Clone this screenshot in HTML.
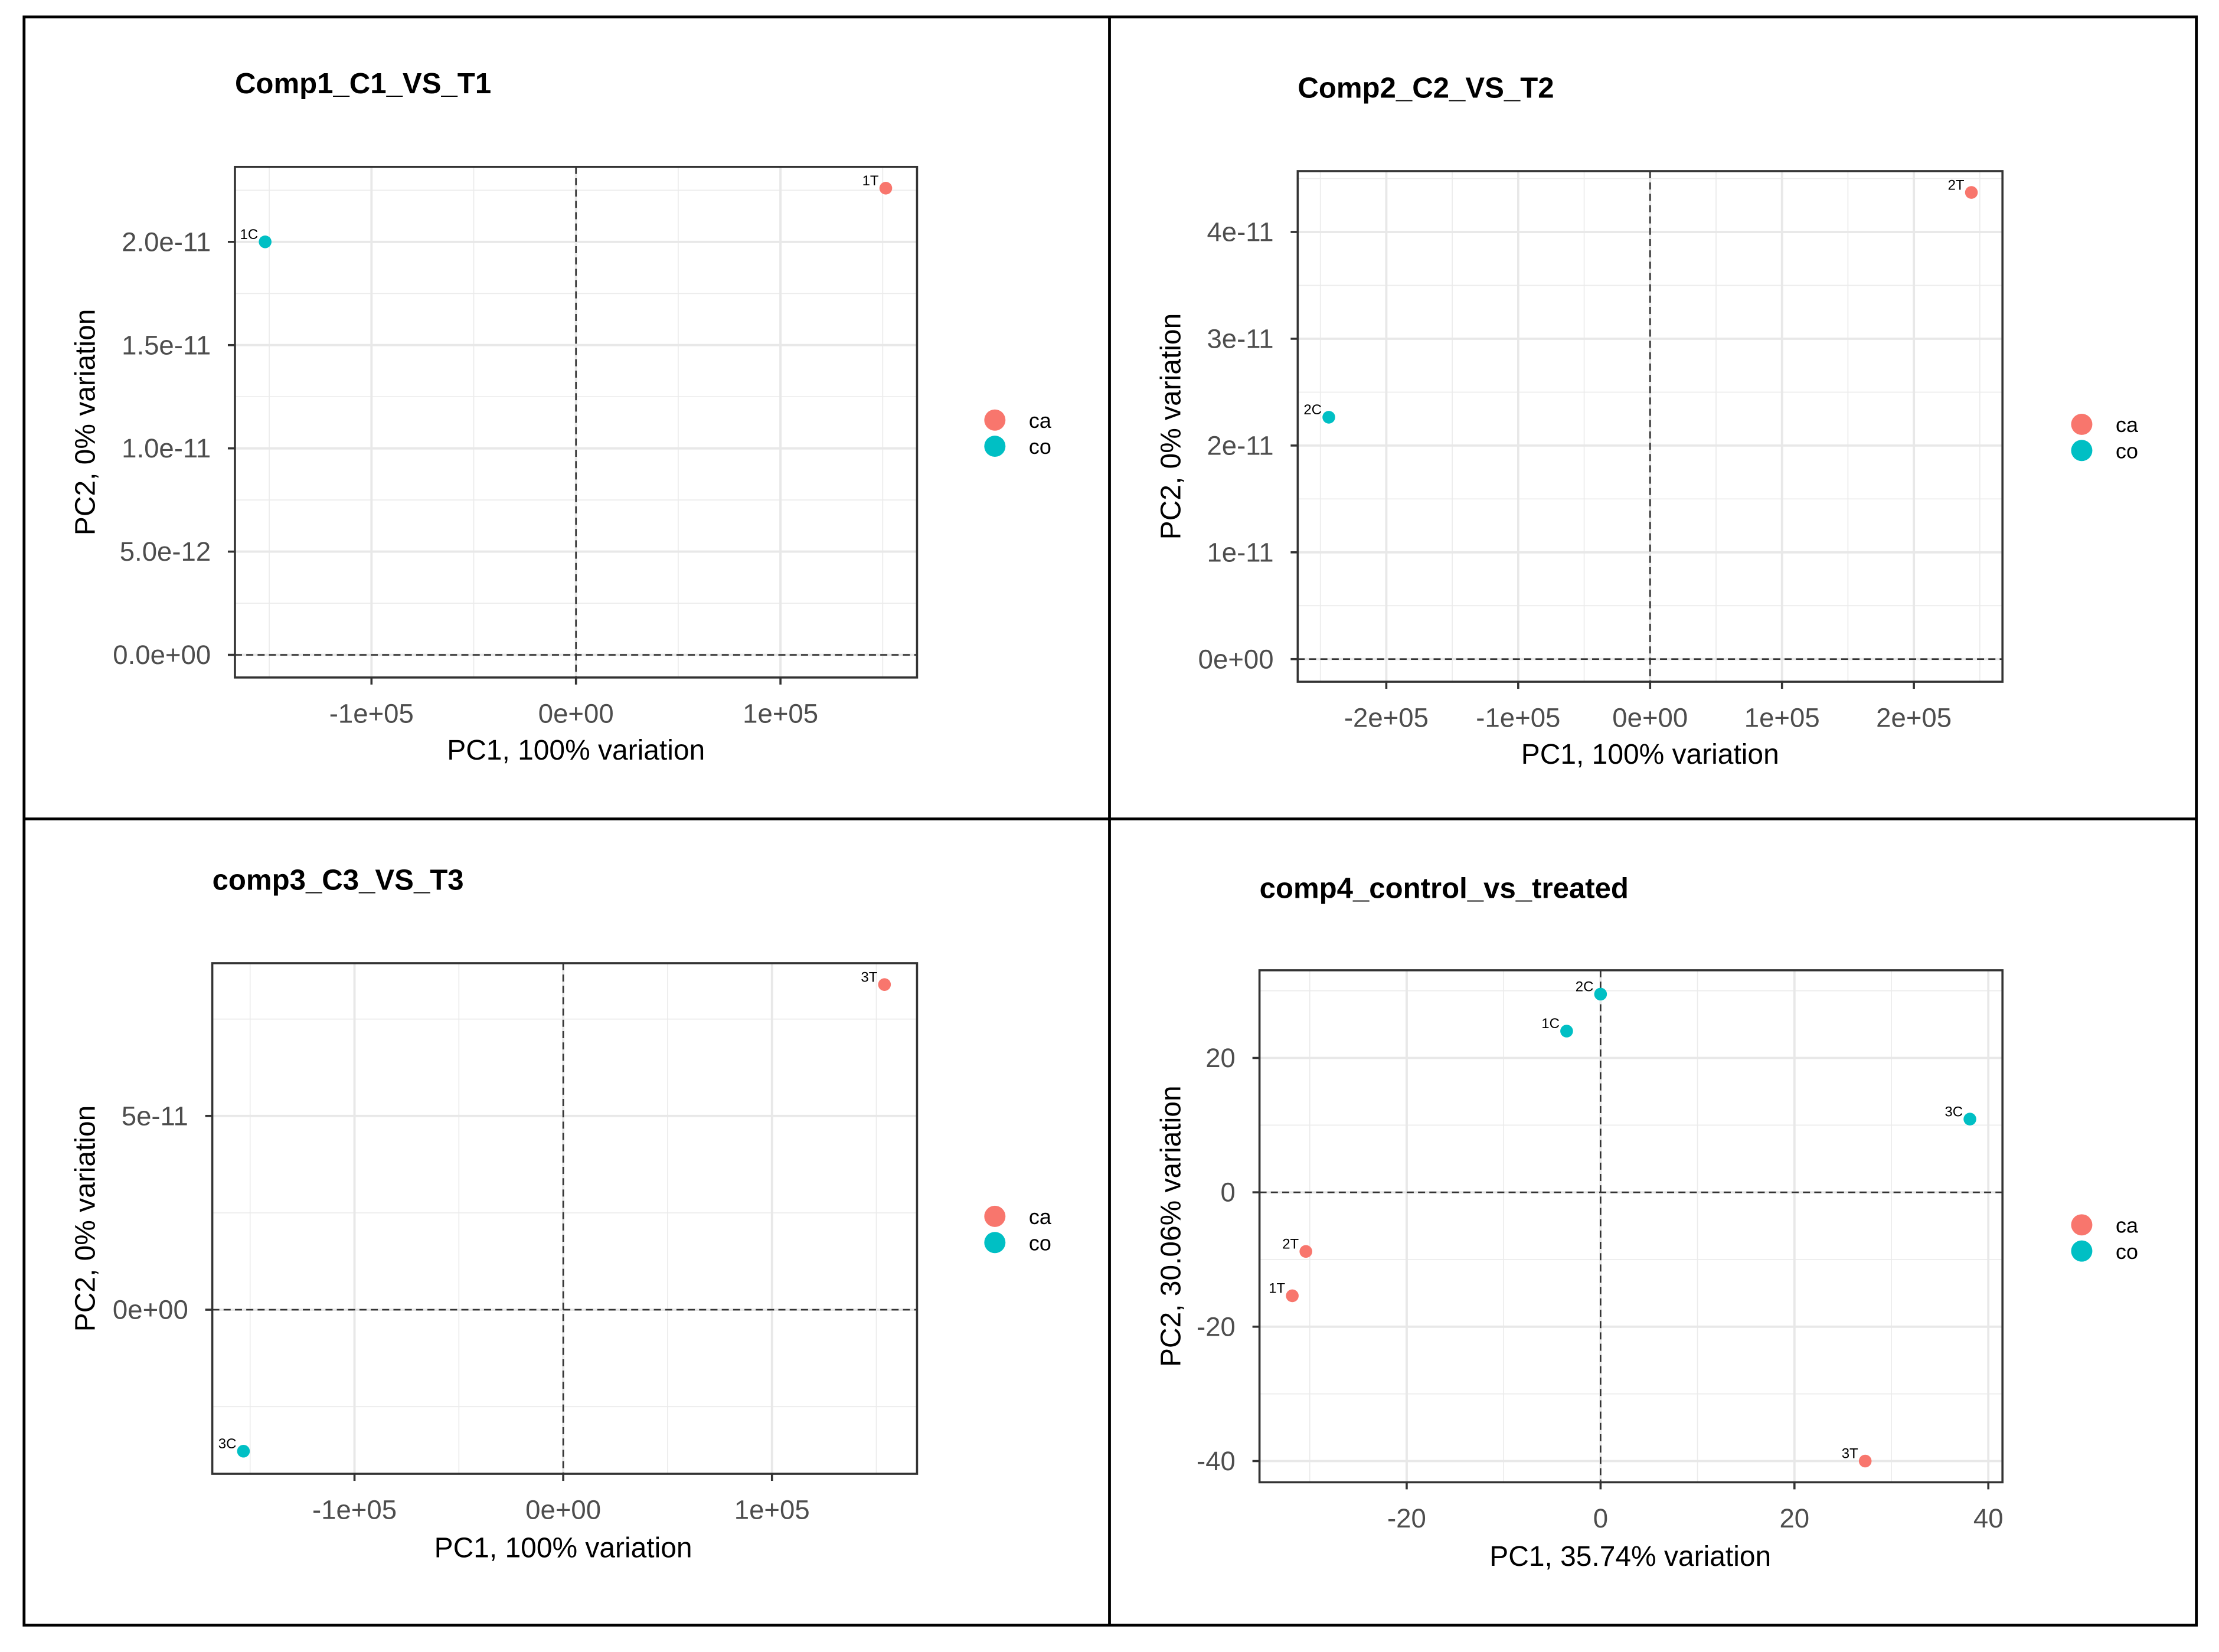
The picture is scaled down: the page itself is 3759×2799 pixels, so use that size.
<!DOCTYPE html>
<html><head><meta charset="utf-8">
<style>
html,body{margin:0;padding:0;background:#fff;}
svg{display:block;font-family:"Liberation Sans",sans-serif;}
</style></head>
<body>
<svg id="fig" width="3759" height="2799" viewBox="0 0 1568 1168" preserveAspectRatio="none" xmlns="http://www.w3.org/2000/svg">
<rect x="0" y="0" width="1568" height="1168" fill="#fff"/>
<g stroke="#000" stroke-width="2" fill="none">
<rect x="17" y="12" width="1535" height="1137"/>
<line x1="784" y1="12" x2="784" y2="1149"/>
<line x1="17" y1="579" x2="1552" y2="579"/>
</g>
</svg>
<script>
// Panel 1 data
const p1Labels = ["1C","1T"];
const p1Groups = ["co","ca"];
const p1PC1 = [-152000, 151500];
const p1PC2 = [2.0e-11, 2.26e-11];
const p1XTicks = [-100000, 0, 100000];
const p1XTickLabels = ["-1e+05","0e+00","1e+05"];
const p1YTicks = [0, 5e-12, 1e-11, 1.5e-11, 2e-11];
const p1YTickLabels = ["0.0e+00","5.0e-12","1.0e-11","1.5e-11","2.0e-11"];
// Panel 2 data
const p2Labels = ["2C","2T"];
const p2Groups = ["co","ca"];
const p2PC1 = [-243600, 243600];
const p2PC2 = [2.265e-11, 4.37e-11];
const p2XTicks = [-200000, -100000, 0, 100000, 200000];
const p2XTickLabels = ["-2e+05","-1e+05","0e+00","1e+05","2e+05"];
const p2YTicks = [0, 1e-11, 2e-11, 3e-11, 4e-11];
const p2YTickLabels = ["0e+00","1e-11","2e-11","3e-11","4e-11"];
// Panel 3 data
const p3Labels = ["3C","3T"];
const p3Groups = ["co","ca"];
const p3PC1 = [-153200, 153900];
const p3PC2 = [-3.65e-11, 8.39e-11];
const p3XTicks = [-100000, 0, 100000];
const p3XTickLabels = ["-1e+05","0e+00","1e+05"];
const p3YTicks = [0, 5e-11];
const p3YTickLabels = ["0e+00","5e-11"];
// Panel 4 data
const p4Labels = ["2C","1C","3C","2T","1T","3T"];
const p4Groups = ["co","co","co","ca","ca","ca"];
const p4PC1 = [0, -3.5, 38.1, -30.4, -31.8, 27.3];
const p4PC2 = [29.5, 24, 10.9, -8.8, -15.4, -40];
const p4XTicks = [-20, 0, 20, 40];
const p4XTickLabels = ["-20","0","20","40"];
const p4YTicks = [-40, -20, 0, 20];
const p4YTickLabels = ["-40","-20","0","20"];

const COLORS = {ca:"#F8766D", co:"#00BFC4"};
const NS = "http://www.w3.org/2000/svg";
const svg = document.getElementById("fig");
function mk(tag, attrs, parent){
  const e = document.createElementNS(NS, tag);
  for (const k in attrs) e.setAttribute(k, attrs[k]);
  parent.appendChild(e);
  return e;
}
function panel(cfg){
  const g = mk("g", {}, svg);
  
  
  const L=cfg.box[0], T=cfg.box[1], R=cfg.box[2], B=cfg.box[3];
  const xs = v => cfg.xpx[0] + (v - cfg.xref[0])*(cfg.xpx[1]-cfg.xpx[0])/(cfg.xref[1]-cfg.xref[0]);
  const ys = v => cfg.ypx[0] + (v - cfg.yref[0])*(cfg.ypx[1]-cfg.ypx[0])/(cfg.yref[1]-cfg.yref[0]);
  const title = mk("text", {x:L, y:cfg.titleY, "font-size":20.5, "font-weight":"bold", fill:"#000"}, g);
  title.textContent = cfg.title;
  
  
  const grid = mk("g", {}, g);
  
  
  const xt = cfg.xticks, yt = cfg.yticks;
  const xstep = xt.length>1 ? xt[1]-xt[0] : 1, ystep = yt.length>1 ? yt[1]-yt[0] : 1;
  for (let v = xt[0]-xstep*4.5; v <= xt[xt.length-1]+xstep*4.5; v += xstep){
    const p = xs(v); if (p>L && p<R) mk("line",{x1:p,x2:p,y1:T,y2:B,stroke:"#ebebeb","stroke-width":0.7},grid);
  }
  for (let v = yt[0]-ystep*4.5; v <= yt[yt.length-1]+ystep*4.5; v += ystep){
    const p = ys(v); if (p>T && p<B) mk("line",{y1:p,y2:p,x1:L,x2:R,stroke:"#ebebeb","stroke-width":0.7},grid);
  }
  xt.forEach(v=>{const p=xs(v); mk("line",{x1:p,x2:p,y1:T,y2:B,stroke:"#e8e8e8","stroke-width":1.6},grid);});
  yt.forEach(v=>{const p=ys(v); mk("line",{y1:p,y2:p,x1:L,x2:R,stroke:"#e8e8e8","stroke-width":1.6},grid);});
  const zx = mk("line",{x1:xs(0),x2:xs(0),y1:T,y2:B,stroke:"#333","stroke-width":1.1,"stroke-dasharray":"5,3"},g);
  
  
  const zy = mk("line",{y1:ys(0),y2:ys(0),x1:L,x2:R,stroke:"#333","stroke-width":1.1,"stroke-dasharray":"5,3"},g);
  
  
  cfg.pc1.forEach((v,i)=>{
    const cx = xs(v), cy = ys(cfg.pc2[i]);
    const c = mk("circle",{cx:cx, cy:cy, r:4.5, fill:COLORS[cfg.groups[i]]}, g);
    
    
    const t = mk("text",{x:cx-5, y:cy-2, "font-size":10, "text-anchor":"end", fill:"#000"}, g);
    t.textContent = cfg.labels[i];
    
    
  });
  const bd = mk("rect",{x:L,y:T,width:R-L,height:B-T,fill:"none",stroke:"#333","stroke-width":1.5},g);
  
  
  xt.forEach((v,i)=>{
    const p = xs(v);
    mk("line",{x1:p,x2:p,y1:B,y2:B+5,stroke:"#333","stroke-width":1.5},g);
    const t = mk("text",{x:p, y:B+32, "font-size":19, "text-anchor":"middle", fill:"#4d4d4d"},g);
    t.textContent = cfg.xlabels[i];
    
    
  });
  yt.forEach((v,i)=>{
    const p = ys(v);
    mk("line",{x1:L-5,x2:L,y1:p,y2:p,stroke:"#333","stroke-width":1.5},g);
    const t = mk("text",{x:L-17, y:p+6.5, "font-size":19, "text-anchor":"end", fill:"#4d4d4d"},g);
    t.textContent = cfg.ylabels[i];
    
    
  });
  const xtl = mk("text",{x:cfg.xTitleX, y:cfg.xTitleY, "font-size":20, "text-anchor":"middle", fill:"#000"},g);
  xtl.textContent = cfg.xTitle;
  
  
  const ytl = mk("text",{x:0, y:0, "font-size":20, "text-anchor":"middle", fill:"#000", transform:"translate("+cfg.yTitleX+","+((T+B)/2)+") rotate(-90)"},g);
  ytl.textContent = cfg.yTitle;
  
  
  const lg = mk("g",{},g);
  
  
  ["ca","co"].forEach((k,i)=>{
    const cy = cfg.legY + i*18.5;
    const c = mk("circle",{cx:cfg.legX, cy:cy, r:7.5, fill:COLORS[k]},lg);
    
    
    const t = mk("text",{x:cfg.legX+24, y:cy+5.5, "font-size":15, fill:"#000"},lg);
    t.textContent = k;
    
    
  });
}
panel({name:"panel-comp1", title:"Comp1_C1_VS_T1", titleY:66, box:[166,118,648,479],
  xref:[0,100000], xpx:[407,551.5], yref:[0,5e-12], ypx:[463,390],
  xticks:p1XTicks, xlabels:p1XTickLabels, yticks:p1YTicks, ylabels:p1YTickLabels,
  labels:p1Labels, groups:p1Groups, pc1:p1PC1, pc2:p1PC2,
  xTitle:"PC1, 100% variation", xTitleX:407, xTitleY:537, yTitle:"PC2, 0% variation", yTitleX:67,
  legX:703, legY:297});
panel({name:"panel-comp2", title:"Comp2_C2_VS_T2", titleY:69, box:[917,121,1415,482],
  xref:[0,100000], xpx:[1166,1259.2], yref:[0,1e-11], ypx:[466,390.5],
  xticks:p2XTicks, xlabels:p2XTickLabels, yticks:p2YTicks, ylabels:p2YTickLabels,
  labels:p2Labels, groups:p2Groups, pc1:p2PC1, pc2:p2PC2,
  xTitle:"PC1, 100% variation", xTitleX:1166, xTitleY:540, yTitle:"PC2, 0% variation", yTitleX:834,
  legX:1471, legY:300});
panel({name:"panel-comp3", title:"comp3_C3_VS_T3", titleY:629, box:[150,681,648,1042],
  xref:[0,100000], xpx:[398,545.5], yref:[0,5e-11], ypx:[926,789],
  xticks:p3XTicks, xlabels:p3XTickLabels, yticks:p3YTicks, ylabels:p3YTickLabels,
  labels:p3Labels, groups:p3Groups, pc1:p3PC1, pc2:p3PC2,
  xTitle:"PC1, 100% variation", xTitleX:398, xTitleY:1101, yTitle:"PC2, 0% variation", yTitleX:67,
  legX:703, legY:860});
panel({name:"panel-comp4", title:"comp4_control_vs_treated", titleY:635, box:[890,686,1415,1048],
  xref:[0,20], xpx:[1131,1268], yref:[0,20], ypx:[843,748],
  xticks:p4XTicks, xlabels:p4XTickLabels, yticks:p4YTicks, ylabels:p4YTickLabels,
  labels:p4Labels, groups:p4Groups, pc1:p4PC1, pc2:p4PC2,
  xTitle:"PC1, 35.74% variation", xTitleX:1152, xTitleY:1107, yTitle:"PC2, 30.06% variation", yTitleX:834,
  legX:1471, legY:866});
</script>
</body></html>
